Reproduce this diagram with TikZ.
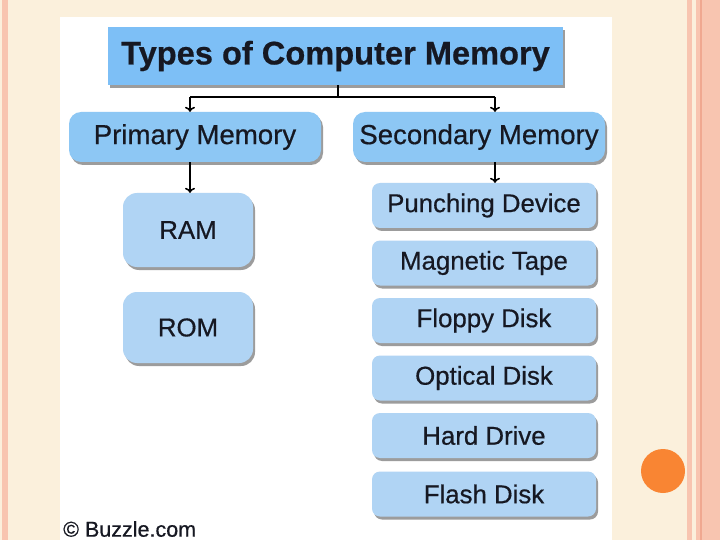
\documentclass[tikz,border=0pt]{standalone}
\usepackage{fontspec}
\setmainfont{Liberation Sans}[FakeBold=0.5]
\usetikzlibrary{shadows,arrows.meta}
\definecolor{bgc}{HTML}{FBF0DC}
\definecolor{pinkc}{HTML}{F8C5B0}
\definecolor{pinkd}{HTML}{F0A890}
\definecolor{titlec}{HTML}{7DBFF6}
\definecolor{midc}{HTML}{8DC7F4}
\definecolor{itemc}{HTML}{B0D4F4}
\definecolor{txtc}{HTML}{161822}
\definecolor{orangec}{HTML}{F98533}
\tikzset{
  shd/.style={drop shadow={shadow xshift=2pt,shadow yshift=-3pt,fill=black!55,opacity=0.7}},
  titlebox/.style={shd,fill=titlec,minimum width=455pt,minimum height=58pt,inner sep=0pt,text=txtc,font=\fontsize{32.6}{34}\selectfont\bfseries},
  midbox/.style={shd,fill=midc,rounded corners=12pt,minimum width=252pt,minimum height=50pt,inner sep=0pt,text=txtc,font=\fontsize{27.6}{29}\selectfont},
  pbox/.style={shd,fill=itemc,rounded corners=14pt,minimum width=130pt,inner sep=0pt,text=txtc,font=\fontsize{25.8}{27}\selectfont},
  ibox/.style={shd,fill=itemc,rounded corners=8pt,minimum width=224pt,minimum height=45pt,inner sep=0pt,text=txtc,font=\fontsize{25.8}{27}\selectfont},
  conn/.style={line width=2.2pt,black},
  arr/.style={conn,-{To[length=5pt,width=10pt,line width=1.5pt]}}
}
\begin{document}
\begin{tikzpicture}[x=1pt,y=-1pt]
\useasboundingbox (0,0) rectangle (720,540);
\fill[bgc] (0,0) rectangle (720,540);
\fill[pinkc] (2,0) rectangle (8,540);
\fill[pinkc] (687,0) rectangle (692,540);
\fill[pinkc] (696,0) rectangle (720,540);
\draw[pinkd,line width=1.5pt] (701,0) -- (701,540);
\fill[white] (60,17) rectangle (612,540);
\fill[orangec] (663,471) circle (22pt);

\node[titlebox] (title) at (335.5,56) {Types of Computer Memory};
\node[midbox] (prim) at (195,137) {Primary Memory};
\node[midbox] (sec) at (479,137) {Secondary Memory};
\node[pbox,minimum height=74pt] (ram) at (188,230) {RAM};
\node[pbox,minimum height=71pt] (rom) at (188,327.5) {ROM};
\node[ibox] (i1) at (484,205.5) {Punching Device};
\node[ibox] (i2) at (484,263) {Magnetic Tape};
\node[ibox] (i3) at (484,320.5) {Floppy Disk};
\node[ibox] (i4) at (484,378) {Optical Disk};
\node[ibox] (i5) at (484,435.5) {Hard Drive};
\node[ibox] (i6) at (484,494) {Flash Disk};
\node[anchor=west,text=txtc,font=\fontsize{21.5}{23}\selectfont,inner sep=0pt] (copy) at (63,529) {© Buzzle.com};

\coordinate (pa) at (190,0);
\coordinate (sa) at (495,0);
\coordinate (j) at (338,97);
\draw[conn] (title.south -| j) -- (j);
\draw[conn] (j -| pa) -- (j -| sa);
\draw[arr] (j -| pa) -- (prim.north -| pa);
\draw[arr] (j -| sa) -- (sec.north -| sa);
\draw[arr] (prim.south -| pa) -- (ram.north -| pa);
\draw[arr] (sec.south -| sa) -- (i1.north -| sa);
\end{tikzpicture}
\end{document}
